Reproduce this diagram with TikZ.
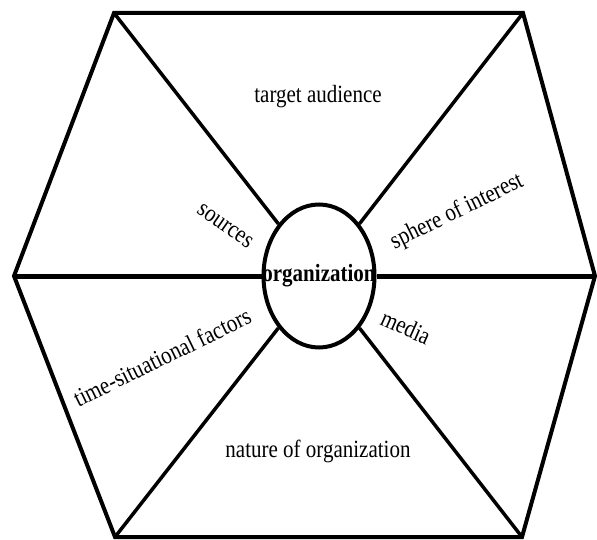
\documentclass[tikz,border=0pt]{standalone}
\usepackage{fontspec}
\setmainfont{Liberation Serif}
\usetikzlibrary{shapes.geometric}

\begin{document}
\begin{tikzpicture}[x=1pt,y=1pt,line width=4pt,line join=miter,
        every node/.style={font=\fontsize{21}{25}\selectfont, inner sep=0pt},
        lbl/.style={yscale=1.18}]
        \useasboundingbox (0,0) rectangle (597,539);
        % corners of the hexagon
        \coordinate (1) at (114,526);
        \coordinate (2) at (523,526);
        \coordinate (3) at (595,263);
        \coordinate (4) at (522,2);
        \coordinate (5) at (115,2);
        \coordinate (6) at (14,263);

        \draw (1)--(2)--(3)--(4)--(5)--(6)-- cycle;

        \node [draw, ellipse, minimum width=111pt, minimum height=143pt] (org) at (319,263) {};
        \node [lbl, font=\fontsize{21}{25}\selectfont\bfseries] (orgtext) at (org) {organization};

        % spokes
        \draw[line width=3.5pt] (1)--(org);
        \draw[line width=3.5pt] (2)--(org);
        \draw[line width=3.5pt] (4)--(org);
        \draw[line width=3.5pt] (5)--(org);
        \draw[line width=5pt] (3)--(org);
        \draw[line width=5pt] (6)--(org);

        \node [lbl] (audience) at (318,442) {target audience};
        \node [rotate=-35, lbl] (sources) at (225,313) {sources};
        \node [rotate=26, lbl] (sphere) at (457,327) {sphere of interest};
        \node [rotate=-24, lbl] (media) at (406,212) {media};
        \node [rotate=26, lbl] (timefac) at (162,182) {time-situational factors};
        \node [lbl] (nature) at (318,88) {nature of organization};
    \end{tikzpicture}
\end{document}
